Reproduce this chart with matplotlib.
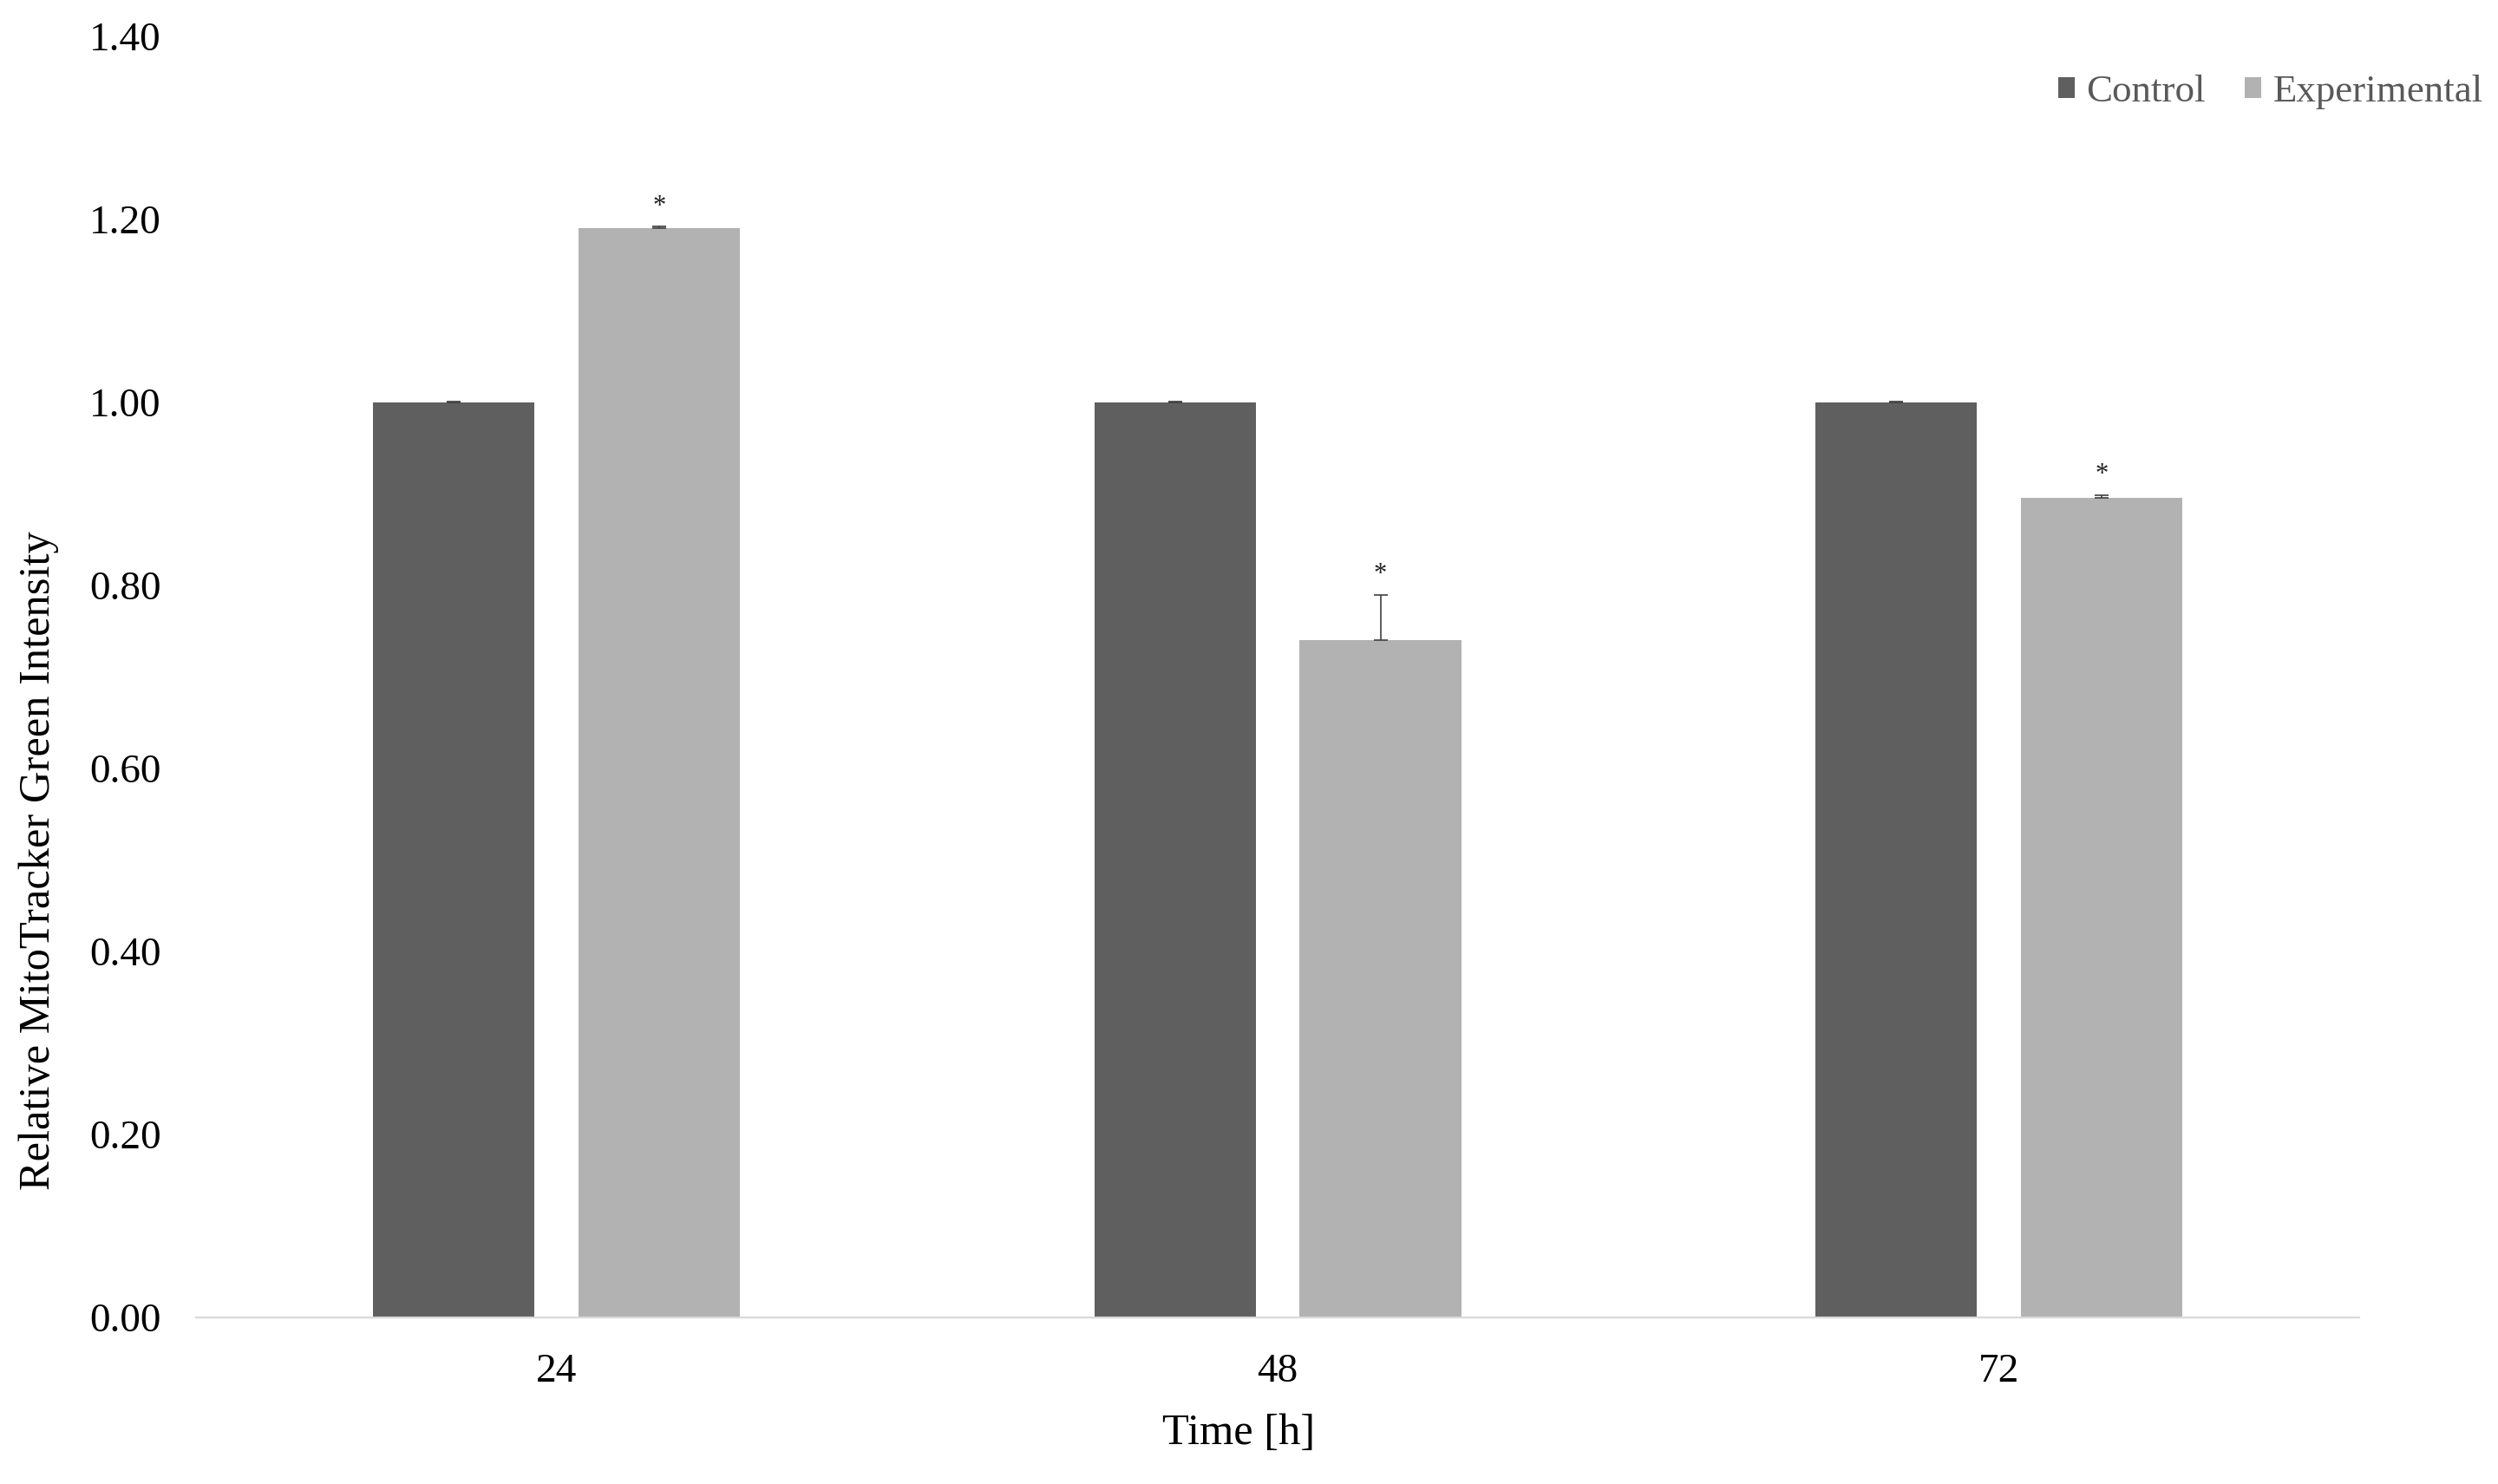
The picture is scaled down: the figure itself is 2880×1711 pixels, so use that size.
import matplotlib
matplotlib.use("Agg")
import matplotlib.pyplot as plt
import numpy as np

# data
times = ["24", "48", "72"]
control = [1.00, 1.00, 1.00]
control_err = [0.001, 0.001, 0.001]
experimental = [1.19, 0.74, 0.896]
experimental_err = [0.002, 0.05, 0.003]
significant = [True, True, True]

plt.rcParams['font.family'] = ['Liberation Serif', 'DejaVu Serif']

fig = plt.figure(figsize=(14.4, 8.555), dpi=200)
ax = fig.add_axes([0.0785, 0.1122, 0.8660, 0.8633])

x = np.arange(len(times))
width = 0.224
offset = 0.1425

ax.bar(x - offset, control, width, color='#5f5f5f', label='Control',
       yerr=[np.zeros(len(times)), control_err], capsize=3,
       error_kw=dict(ecolor='#404040', elinewidth=0.6, capthick=0.6))
ax.bar(x + offset, experimental, width, color='#b2b2b2', label='Experimental',
       yerr=[np.zeros(len(times)), experimental_err], capsize=3,
       error_kw=dict(ecolor='#404040', elinewidth=0.6, capthick=0.6))

# significance marks
for i, (val, err, sig) in enumerate(zip(experimental, experimental_err, significant)):
    if sig:
        ax.annotate('*', (x[i] + offset, val + err), xytext=(0, 3),
                    textcoords='offset points', ha='center', va='bottom',
                    fontsize=11, color='#222222')

ax.set_xlim(-0.5, 2.5)
ax.set_ylim(0, 1.40)
ax.set_yticks(np.arange(0, 1.41, 0.2))
ax.set_yticklabels([f"{v:.2f}" for v in np.arange(0, 1.41, 0.2)])
ax.set_xticks(x)
ax.set_xticklabels(times)
ax.tick_params(axis='both', length=0, labelsize=17, colors='black')
ax.tick_params(axis='y', pad=14.5)
ax.tick_params(axis='x', pad=15)

for s in ['top', 'right', 'left']:
    ax.spines[s].set_visible(False)
ax.spines['bottom'].set_color('#d9d9d9')
ax.spines['bottom'].set_linewidth(0.8)

fig.text(0.0155, 0.42, 'Relative MitoTracker Green Intensity', rotation=90,
         ha='center', va='center', fontsize=18.2)
fig.text(0.496, 0.034, 'Time [h]', ha='center', va='center', fontsize=18.2)

leg = fig.legend(loc='center right', bbox_to_anchor=(1.008, 0.938), ncol=2,
                 frameon=False, fontsize=16.2, handlelength=0.42, handleheight=0.42,
                 handletextpad=0.3, columnspacing=1.0)
for t in leg.get_texts():
    t.set_color('#595959')

fig.savefig('out.png', dpi=200, facecolor='white')
